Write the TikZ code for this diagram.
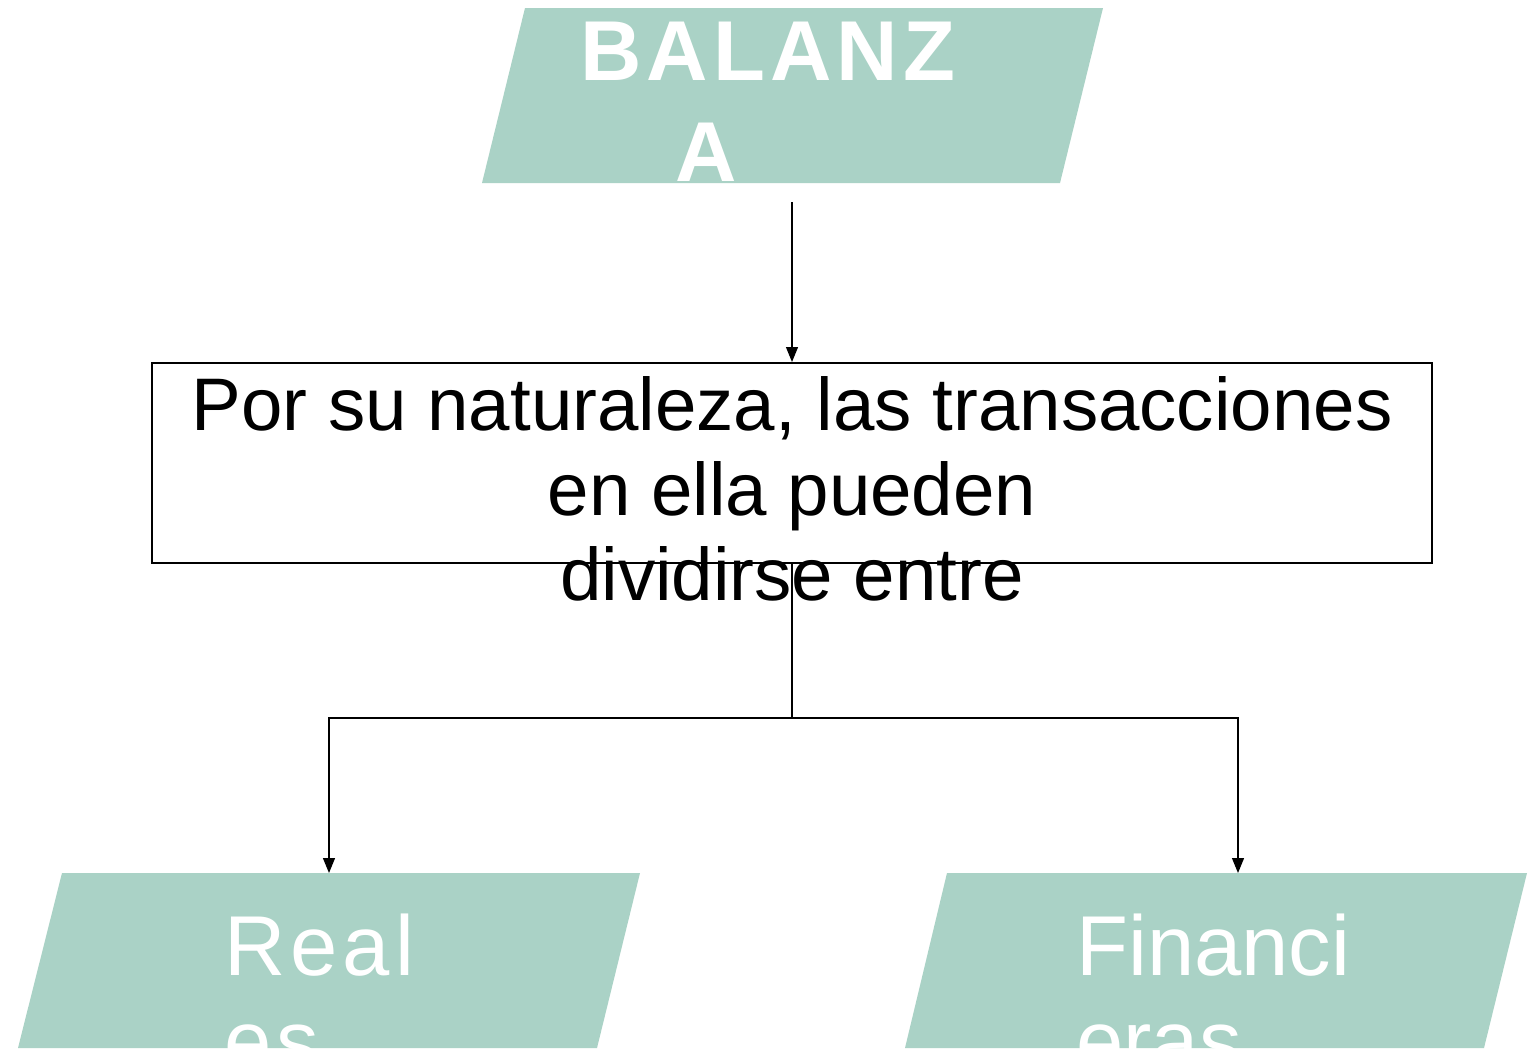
\documentclass[tikz,border=0pt]{standalone}
\usepackage{fontspec}
\setmainfont{Liberation Sans}
\newfontfamily\letrasanchas[LetterSpace=6.0]{Liberation Sans}
\usetikzlibrary{arrows.meta}
\definecolor{verdeBalanza}{RGB}{170,210,198}
\tikzset{
	forma/.style={fill=verdeBalanza},
	rotulo/.style={text=white, inner sep=0pt, align=left, font=\fontsize{85}{95}\selectfont},
	caja/.style={draw, line width=2pt, minimum width=1280pt, minimum height=200pt, inner sep=0pt},
	linea/.style={line width=1.2pt},
	flecha/.style={linea, -{Triangle[length=15pt,width=12pt]}}
}
\begin{document}
\begin{tikzpicture}[x=1pt,y=-1pt]
		\useasboundingbox (0,0) rectangle (1537,1050);
		\fill[white] (0,0) rectangle (1537,1050);
		% figuras
		\fill[forma] (525,8) -- (1103,8) -- (1060,183) -- (482,183) -- cycle;
		\fill[forma] (62,873) -- (640,873) -- (597,1048) -- (18,1048) -- cycle;
		\fill[forma] (947,873) -- (1527,873) -- (1484,1048) -- (905,1048) -- cycle;
		% textos (anclados en la ultima linea)
		\node[rotulo, anchor=base west, font=\fontsize{85}{101}\letrasanchas\bfseries] (balanza) at (580,181) {BALANZ\\\hspace*{95pt}A};
		\node[rotulo, anchor=base west, font=\fontsize{85}{95}\letrasanchas] (reales) at (224,1070) {Real\\es};
		\node[rotulo, anchor=base west] (financieras) at (1076,1070) {Financi\\eras};
		\node[caja] (naturaleza) at (792,463) {};
		\node[anchor=base, align=center, inner sep=0pt, font=\fontsize{74.5}{85}\selectfont] (naturalezaTexto) at (792,600) {Por su naturaleza, las transacciones\\en ella pueden\\dividirse entre};
		% conectores
		\coordinate (balanzaPie) at (792,202);
		\coordinate (reparto) at (792,718);
		\coordinate (realesTope) at (329,873);
		\coordinate (financierasTope) at (1238,873);
		\draw[flecha] (balanzaPie) -- (naturaleza.north);
		\draw[linea] (naturaleza.south) -- (reparto);
		\draw[flecha] (reparto) -| (realesTope);
		\draw[flecha] (reparto) -| (financierasTope);
	\end{tikzpicture}
\end{document}
